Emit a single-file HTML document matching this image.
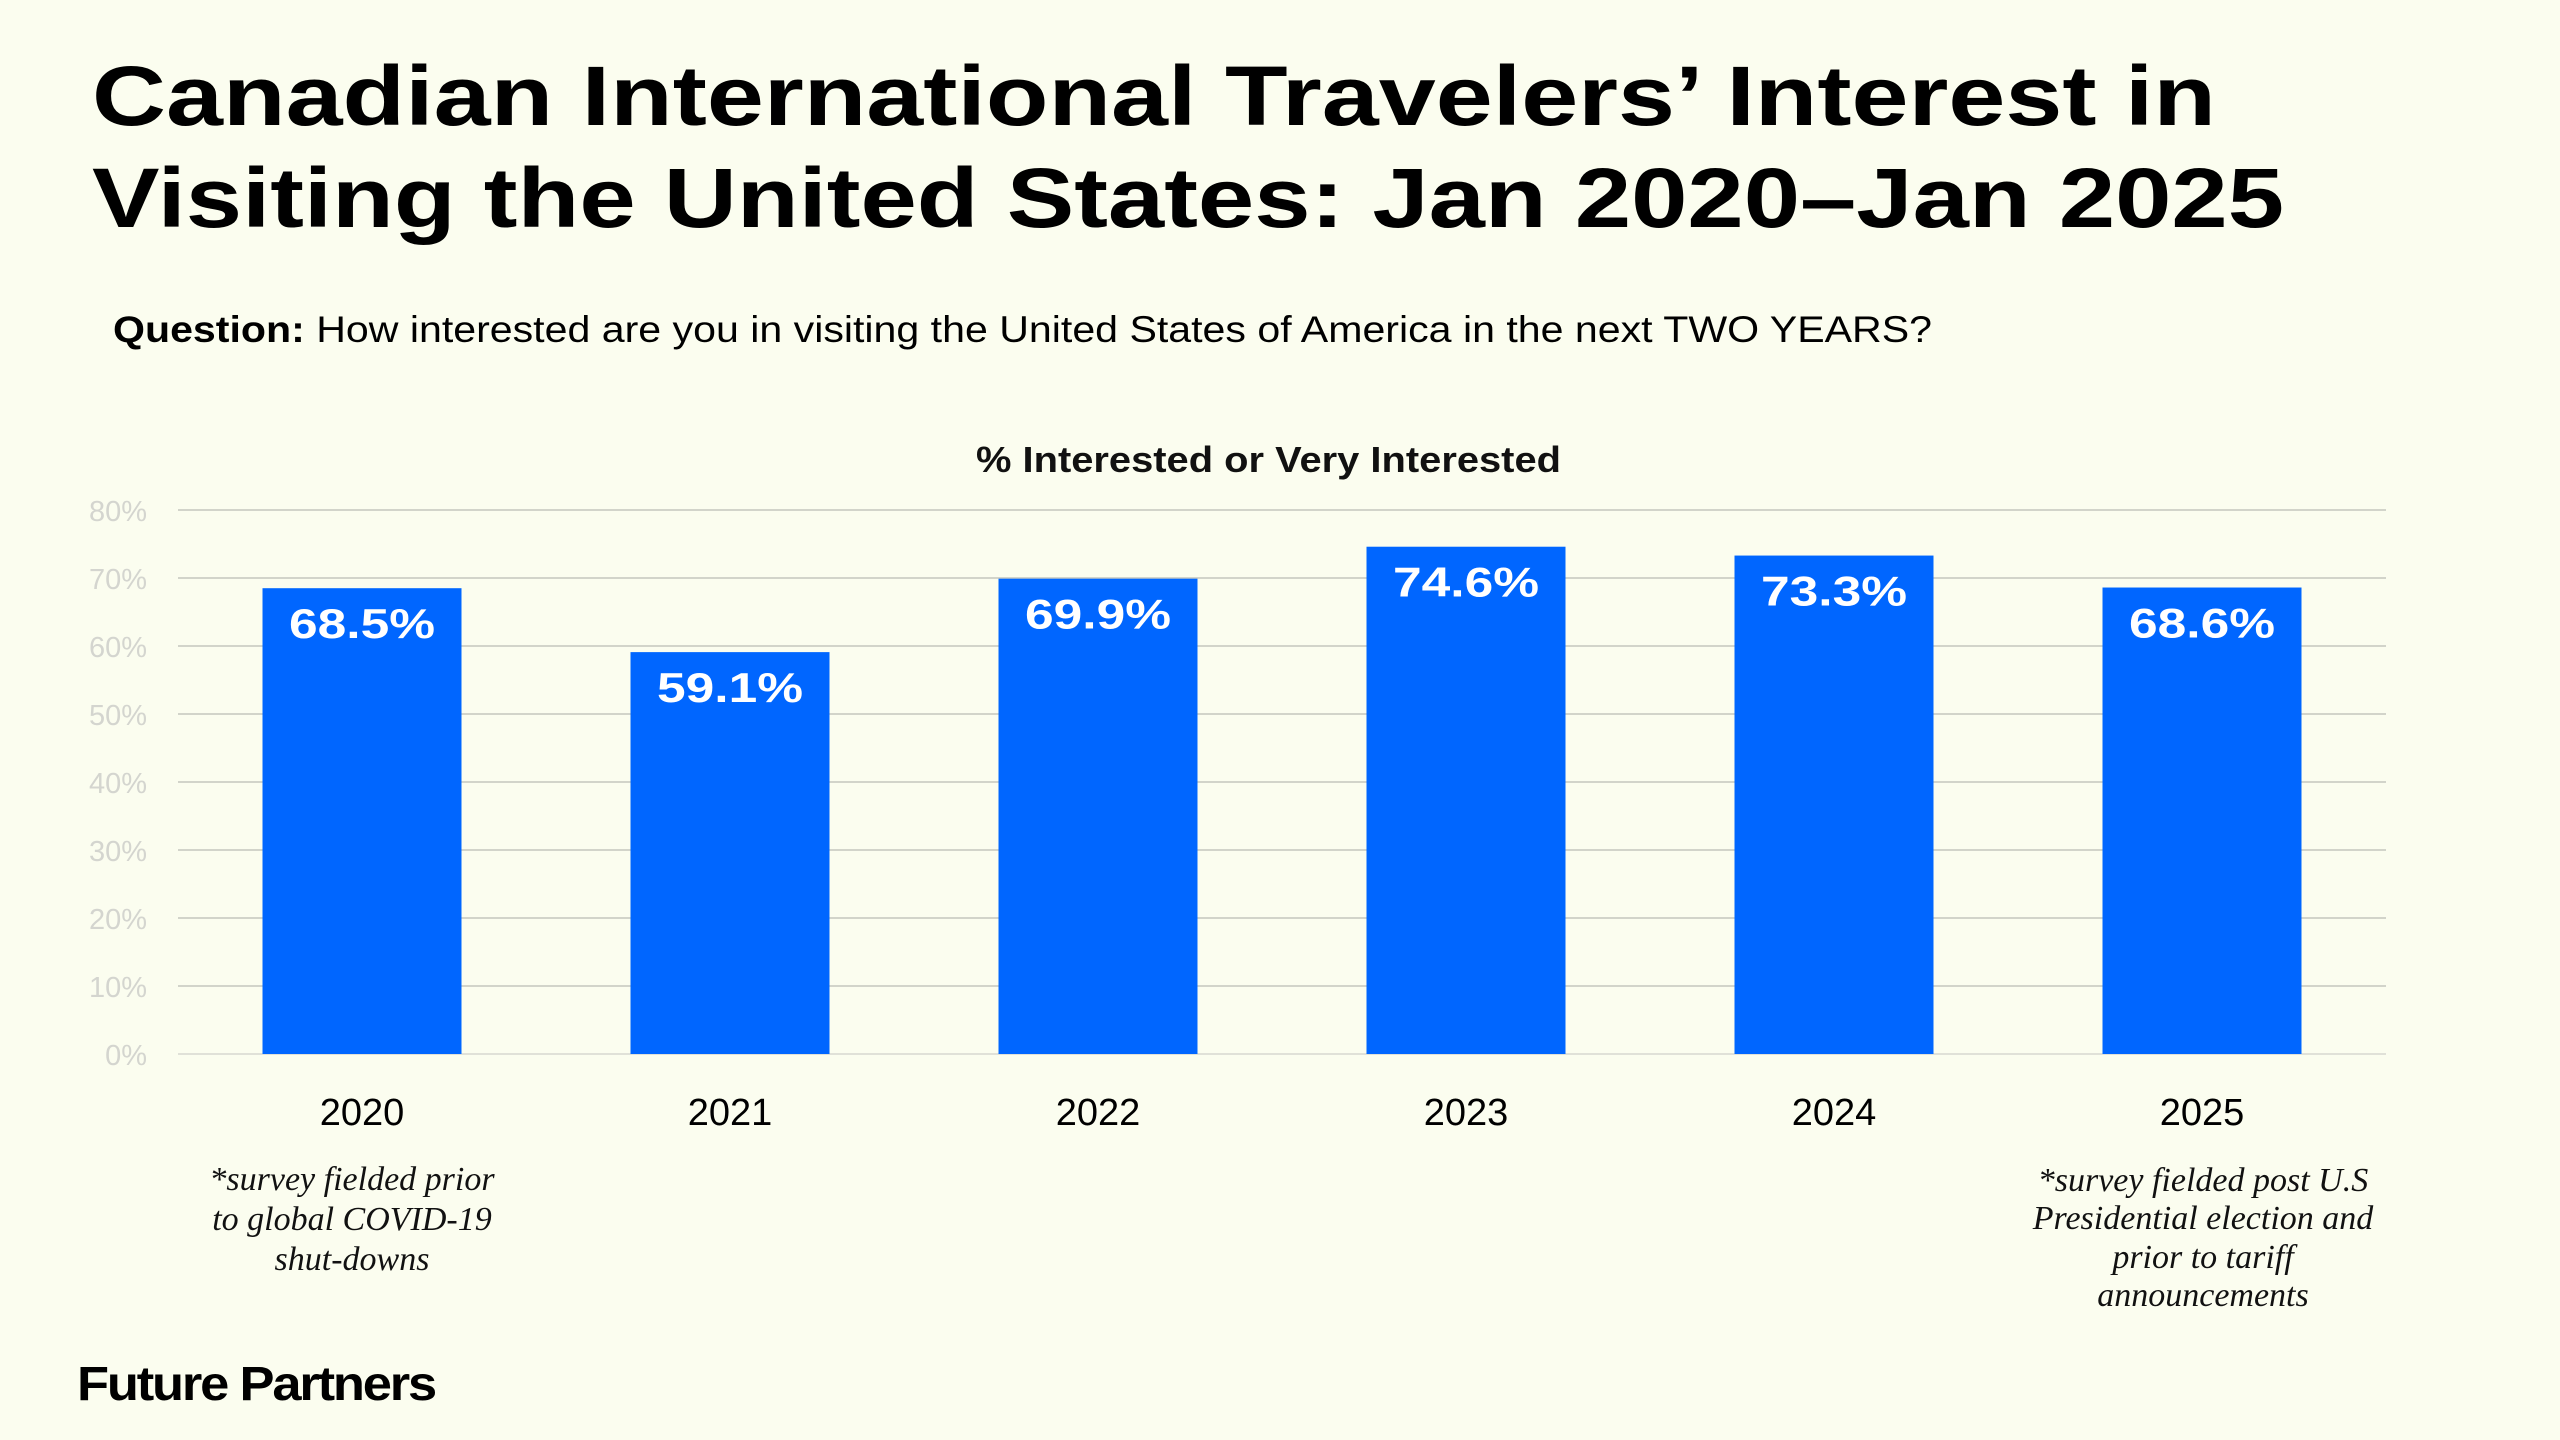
<!DOCTYPE html>
<html><head><meta charset="utf-8"><style>
html,body{margin:0;padding:0;background:#fbfdef;}
svg{display:block;}
text{font-family:"Liberation Sans",sans-serif;}
.serif{font-family:"Liberation Serif",serif;font-style:italic;}
</style></head><body>
<svg id="chart" width="2560" height="1440" viewBox="0 0 2560 1440">
<rect width="2560" height="1440" fill="#fbfdef"/>
<text x="92" y="125" font-size="84" font-weight="bold" fill="#000" textLength="2124" lengthAdjust="spacingAndGlyphs">Canadian International Travelers’ Interest in</text>
<text x="92" y="227" font-size="84" font-weight="bold" fill="#000" textLength="2192" lengthAdjust="spacingAndGlyphs">Visiting the United States: Jan 2020–Jan 2025</text>
<text x="113" y="342" font-size="37" fill="#000" textLength="1819" lengthAdjust="spacingAndGlyphs"><tspan font-weight="bold">Question:</tspan> How interested are you in visiting the United States of America in the next TWO YEARS?</text>
<text x="976" y="472" font-size="36" font-weight="bold" fill="#111" textLength="585" lengthAdjust="spacingAndGlyphs">% Interested or Very Interested</text>
<g id="grid"></g>
<g id="yticks"></g>
<g id="bars"></g>
<g id="xlabels"></g>
<g class="serif" font-size="34" fill="#111" text-anchor="middle">
<text x="352" y="1190" class="serif">*survey fielded prior</text>
<text x="352" y="1230" class="serif">to global COVID-19</text>
<text x="352" y="1270" class="serif">shut-downs</text>
</g>
<g font-size="34" fill="#111" text-anchor="middle">
<text x="2203" y="1191" class="serif">*survey fielded post U.S</text>
<text x="2203" y="1229" class="serif">Presidential election and</text>
<text x="2203" y="1268" class="serif">prior to tariff</text>
<text x="2203" y="1306" class="serif">announcements</text>
</g>
<text x="77" y="1400" font-size="48" font-weight="bold" fill="#000" letter-spacing="-2" textLength="358" lengthAdjust="spacingAndGlyphs">Future Partners</text>
</svg>
<script>
const categories = ["2020","2021","2022","2023","2024","2025"];
const values = [68.5, 59.1, 69.9, 74.6, 73.3, 68.6];
const valueLabels = ["68.5%","59.1%","69.9%","74.6%","73.3%","68.6%"];
const yTicks = [0,10,20,30,40,50,60,70,80];
const yTickLabels = ["0%","10%","20%","30%","40%","50%","60%","70%","80%"];

const NS = "http://www.w3.org/2000/svg";
const plotL = 178, plotR = 2386, y0 = 1054, yTop = 510, yMax = 80;
const band = (plotR - plotL) / categories.length;
const barW = 199;
function yScale(v){ return y0 - (v / yMax) * (y0 - yTop); }
function xCenter(i){ return plotL + band * (i + 0.5); }
function mk(tag, attrs, parent){
  const e = document.createElementNS(NS, tag);
  for (const k in attrs) e.setAttribute(k, attrs[k]);
  parent.appendChild(e);
  return e;
}
const grid = document.getElementById('grid');
const yt = document.getElementById('yticks');
yTicks.forEach((t, i) => {
  const y = yScale(t);
  const l = mk('line', {x1: plotL, x2: plotR, y1: y, y2: y, stroke: t === 0 ? '#d8d8d0' : '#c4c6be', 'stroke-width': 1.5}, grid);
  
  
  const tx = mk('text', {x: 147, y: y + 11, 'font-size': 29, fill: '#d4d5cf', 'text-anchor': 'end'}, yt);
  tx.textContent = yTickLabels[i];
  
  
});
const bars = document.getElementById('bars');
const xl = document.getElementById('xlabels');
categories.forEach((c, i) => {
  const cx = xCenter(i);
  const yv = yScale(values[i]);
  const r = mk('rect', {x: cx - barW / 2, y: yv, width: barW, height: y0 - yv, fill: '#0066ff'}, bars);
  
  
  const vl = mk('text', {x: cx - 73, y: yv + 50, 'font-size': 42, 'font-weight': 'bold', fill: '#fff', textLength: 146, lengthAdjust: 'spacingAndGlyphs'}, bars);
  vl.textContent = valueLabels[i];
  
  
  const cl = mk('text', {x: cx, y: 1125, 'font-size': 38, fill: '#000', 'text-anchor': 'middle'}, xl);
  cl.textContent = c;
  
  
});
</script>
</body></html>
